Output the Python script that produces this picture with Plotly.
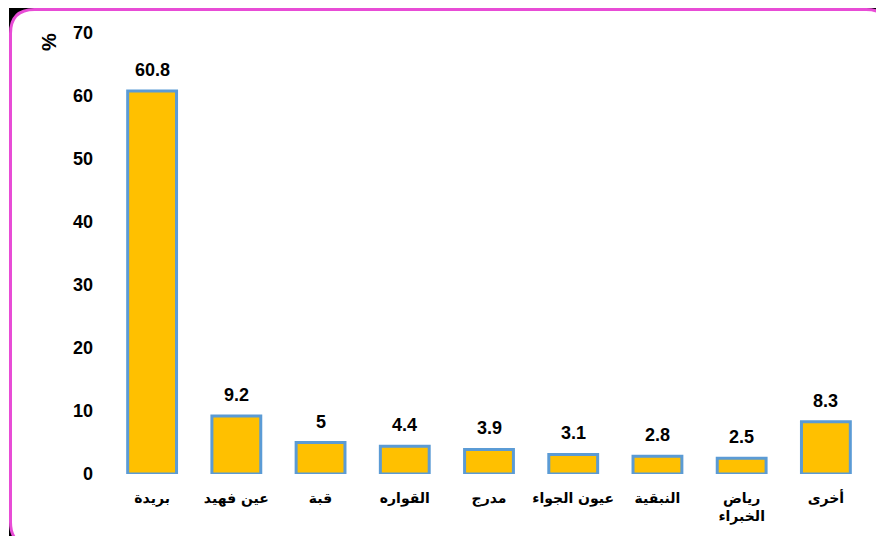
import plotly.graph_objects as go

# data
places = ["بريدة", "عين فهيد", "قبة", "القواره", "مدرج", "عيون الجواء", "النبقية", "رياض<br>الخبراء", "أخرى"]
shares = [60.8, 9.2, 5, 4.4, 3.9, 3.1, 2.8, 2.5, 8.3]
y_ticks = [0, 10, 20, 30, 40, 50, 60, 70]

# the page body adds an 8px margin, so the figure is 8px smaller
OFF = 8
W, H = 884 - OFF, 536 - OFF
ML, MR, MT, MB = 110 - OFF, 16, 33 - OFF, 62
FONT = "Liberation Sans, DejaVu Sans, Arial, sans-serif"


def px_x(x):
    # x given in page pixels
    return (x - OFF - ML) / (W - ML - MR)


def px_y(y):
    return (H - MB - (y - OFF)) / (H - MT - MB)


def rounded_path(x0, y0, x1, y1, r):
    """Rounded rectangle path in paper coords from page pixel coords."""
    pts = [
        ("M", x0 + r, y0), ("L", x1 - r, y0), ("Q", x1, y0, x1, y0 + r),
        ("L", x1, y1 - r), ("Q", x1, y1, x1 - r, y1), ("L", x0 + r, y1),
        ("Q", x0, y1, x0, y1 - r), ("L", x0, y0 + r), ("Q", x0, y0, x0 + r, y0),
    ]
    out = []
    for p in pts:
        cmd, coords = p[0], p[1:]
        xy = []
        for i in range(0, len(coords), 2):
            xy.append("%.5f,%.5f" % (px_x(coords[i]), px_y(coords[i + 1])))
        out.append(cmd + " " + " ".join(xy))
    return " ".join(out) + " Z"


fig = go.Figure()
fig.add_trace(go.Bar(
    x=places, y=shares,
    marker=dict(color="#FFC000", line=dict(color="#5B9BD5", width=3)),
    hoverinfo="skip",
))

# value labels above bars
for cat, v in zip(places, shares):
    fig.add_annotation(
        x=cat, y=v, text="<b>%g</b>" % v, showarrow=False,
        yanchor="bottom", yshift=9, font=dict(size=18, color="black", family=FONT),
    )

# "%" axis label
fig.add_annotation(
    xref="paper", yref="paper", x=px_x(36), y=px_y(31), text="<b>%</b>",
    textangle=-90, showarrow=False, font=dict(size=20, color="black", family=FONT),
)

# frame: black corners behind a white rounded box with a magenta border
fig.add_shape(type="rect", xref="paper", yref="paper", layer="below",
              x0=px_x(9), x1=px_x(892), y0=px_y(8), y1=px_y(548),
              fillcolor="black", line=dict(width=0))
fig.add_shape(type="path", xref="paper", yref="paper", layer="below",
              path=rounded_path(10.5, 9.5, 890, 546, 24),
              fillcolor="white", line=dict(color="#E84CD6", width=3))

fig.update_layout(
    width=W, height=H,
    margin=dict(l=ML, r=MR, t=MT, b=MB),
    paper_bgcolor="white", plot_bgcolor="rgba(0,0,0,0)",
    bargap=0.42, showlegend=False,
    font=dict(family=FONT, color="black"),
)
fig.update_xaxes(
    showgrid=False, showline=False, zeroline=False, ticks="", automargin=False,
    tickfont=dict(size=14, color="black", family="DejaVu Sans"),
    ticklabelstandoff=14,
    tickvals=places, ticktext=["<b>%s</b>" % p for p in places],
)
fig.update_yaxes(
    range=[0, 70], tickvals=y_ticks, ticktext=["<b>%d</b>" % t for t in y_ticks],
    showgrid=False, showline=False, zeroline=False, ticks="", automargin=False,
    tickfont=dict(size=18, color="black", family=FONT),
    ticklabelstandoff=16,
)

fig.write_html("out.html")
